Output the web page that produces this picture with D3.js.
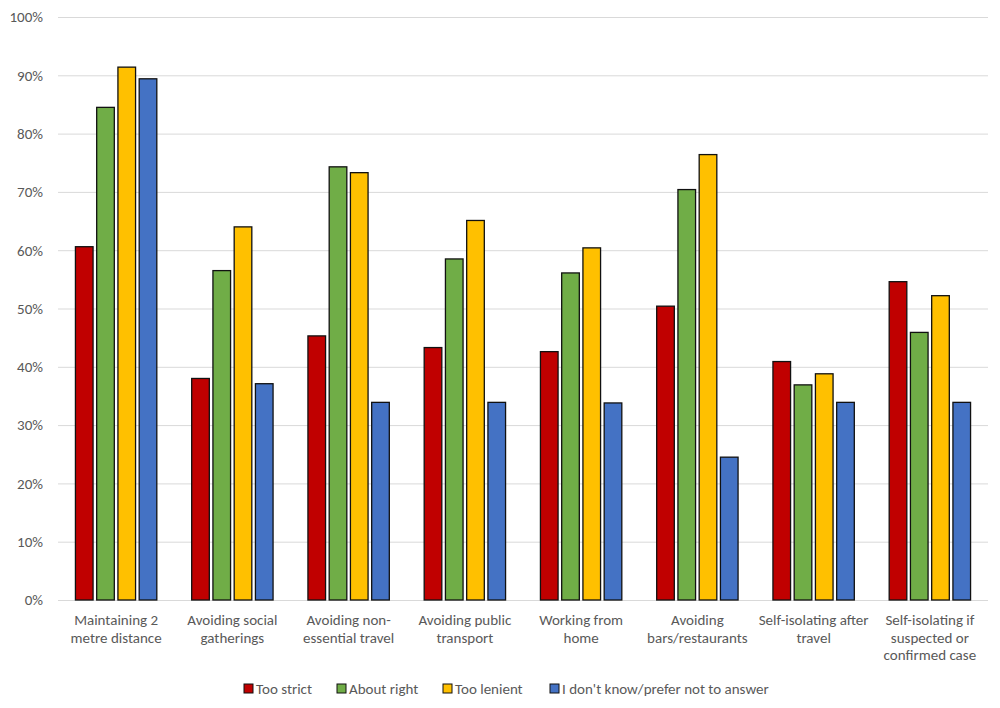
<!DOCTYPE html>
<html>
<head>
<meta charset="utf-8">
<script src="https://cdn.jsdelivr.net/npm/d3@7"></script>
<style>
  body { margin: 0; background: #fff; }
  text { font-family: Carlito, Calibri, Lato, "Liberation Sans", sans-serif; fill: #595959; }
</style>
</head>
<body>
<div id="chart"></div>
<script>
// Donnees (en %)
const categories = [
  "Maintaining 2\nmetre distance",
  "Avoiding social\ngatherings",
  "Avoiding non-\nessential travel",
  "Avoiding public\ntransport",
  "Working from\nhome",
  "Avoiding\nbars/restaurants",
  "Self-isolating after\ntravel",
  "Self-isolating if\nsuspected or\nconfirmed case"
];
const series = ["Too strict", "About right", "Too lenient", "I don't know/prefer not to answer"];
const couleurs = ["#C00000", "#70AD47", "#FFC000", "#4472C4"];

const tooStrict  = [60.6, 38.0, 45.3, 43.3, 42.6, 50.4, 40.9, 54.6];
const aboutRight = [84.5, 56.5, 74.3, 58.5, 56.1, 70.4, 36.9, 45.9];
const tooLenient = [91.4, 64.0, 73.3, 65.1, 60.4, 76.4, 38.8, 52.2];
const dontKnow   = [89.4, 37.1, 33.9, 33.9, 33.8, 24.5, 33.9, 33.9];

const yTicks = [0, 10, 20, 30, 40, 50, 60, 70, 80, 90, 100];

const valeurs = [tooStrict, aboutRight, tooLenient, dontKnow];

const width = 1000, height = 708;
const margin = {top: 17, right: 12, bottom: 108, left: 58};
const innerW = width - margin.left - margin.right;
const innerH = height - margin.top - margin.bottom;
const taillePolice = "15px";

const svg = d3.select("#chart").append("svg")
  .attr("width", width)
  .attr("height", height);

const g = svg.append("g")
  .attr("transform", "translate(" + margin.left + "," + margin.top + ")");

const x0 = d3.scaleBand().domain(d3.range(categories.length)).range([0, innerW]).paddingInner(0.3).paddingOuter(0.15);
const x1 = d3.scaleBand().domain(d3.range(series.length)).range([0, x0.bandwidth()]).paddingInner(0.17).paddingOuter(0);
const y = d3.scaleLinear().domain([0, 100]).range([innerH, 0]);

// Grille
g.append("g")
  .selectAll("line")
  .data(yTicks)
  .enter().append("line")
  .attr("x1", 0).attr("x2", innerW)
  .attr("y1", d => y(d) + 0.5).attr("y2", d => y(d) + 0.5)
  .attr("stroke", "#D9D9D9")
  .attr("stroke-width", 1);

// Axe Y (etiquettes seulement)
const yAxis = g.append("g")
  .call(d3.axisLeft(y).tickValues(yTicks).tickFormat(d => d + "%").tickSize(0).tickPadding(15));
yAxis.select(".domain").remove();
yAxis.selectAll("text")
  .style("font-size", taillePolice)
  .attr("fill", "#595959");

// Barres
const groupes = g.selectAll(".groupe")
  .data(categories)
  .enter().append("g")
  .attr("class", "groupe")
  .attr("transform", (d, i) => "translate(" + x0(i) + ",0)");

groupes.selectAll("rect")
  .data((d, i) => valeurs.map((s, j) => ({serie: j, valeur: s[i]})))
  .enter().append("rect")
  .attr("x", d => x1(d.serie))
  .attr("y", d => y(d.valeur))
  .attr("width", x1.bandwidth())
  .attr("height", d => innerH - y(d.valeur))
  .attr("fill", d => couleurs[d.serie])
  .attr("stroke", "#111")
  .attr("stroke-width", 1.3);

// Etiquettes des categories
const xAxis = g.append("g")
  .attr("transform", "translate(0," + innerH + ")");
xAxis.selectAll("text")
  .data(categories)
  .enter().append("text")
  .attr("x", (d, i) => x0(i) + x0.bandwidth() / 2)
  .attr("y", 25)
  .attr("text-anchor", "middle")
  .style("font-size", taillePolice)
  .selectAll("tspan")
  .data(d => d.split("\n"))
  .enter().append("tspan")
  .attr("x", function() { return d3.select(this.parentNode).attr("x"); })
  .attr("dy", (d, k) => k === 0 ? 0 : 17.5)
  .text(d => d);

// Legende
const legendeX = [244, 337, 443, 550];
const legende = svg.append("g").attr("transform", "translate(0,684)");
const items = legende.selectAll("g")
  .data(series)
  .enter().append("g")
  .attr("transform", (d, i) => "translate(" + legendeX[i] + ",0)");
items.append("rect")
  .attr("width", 9).attr("height", 9)
  .attr("fill", (d, i) => couleurs[i])
  .attr("stroke", "#111")
  .attr("stroke-width", 1);
items.append("text")
  .attr("x", 12)
  .attr("y", 9.5)
  .style("font-size", taillePolice)
  .text(d => d);
</script>
</body>
</html>
